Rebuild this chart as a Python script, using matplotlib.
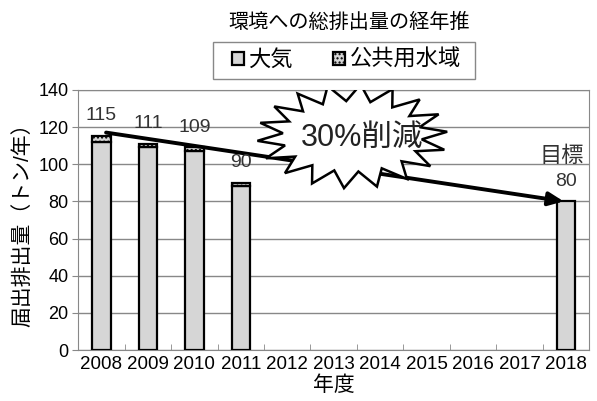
import numpy as np
import matplotlib
matplotlib.use('Agg')
import matplotlib.pyplot as plt
from matplotlib.patches import Polygon, Rectangle

plt.rcParams['font.family'] = ['Liberation Sans', 'Noto Sans CJK JP', 'DejaVu Sans']

years = [2008, 2009, 2010, 2011, 2012, 2013, 2014, 2015, 2016, 2017, 2018]
air = [112, 109, 107, 88, np.nan, np.nan, np.nan, np.nan, np.nan, np.nan, 80]
water = [3, 2, 2, 2, np.nan, np.nan, np.nan, np.nan, np.nan, np.nan, np.nan]
totals = [115, 111, 109, 90]
target = 80

fig = plt.figure(figsize=(5.97, 4.01), dpi=100)
ax = fig.add_axes([0.131, 0.127, 0.856, 0.649])

x = np.arange(len(years))
ax.bar(x, air, width=0.4, color='#d6d6d6', edgecolor='black', linewidth=1.6, label='大気', zorder=3)
ax.bar(x, water, width=0.4, bottom=air, color='#d6d6d6', edgecolor='black',
       linewidth=1.6, hatch='....', label='公共用水域', zorder=3)

for i, t in enumerate(totals):
    ax.text(x[i], t + 11, str(t), ha='center', va='center', fontsize=14, color='#333333', zorder=5)
ax.text(x[-1], target + 10.5, str(target), ha='center', va='center', fontsize=14, color='#333333')
ax.text(x[-1] - 0.1, target + 24, '目標', ha='center', va='center', fontsize=16, color='#333333')

# target arrow
ax.annotate('', xy=(x[-1] - 0.05, target), xytext=(x[0] + 0.1, 117),
            arrowprops=dict(arrowstyle='-|>,head_length=0.9,head_width=0.4', color='black', lw=2.8,
                            shrinkA=0, shrinkB=0),
            zorder=4)

# starburst
cx, cy = 5.4, 115
n = 18
ang = np.linspace(0, 2 * np.pi, 2 * n, endpoint=False) + np.pi / (2 * n)
rx = np.where(np.arange(2 * n) % 2 == 0, 2.05, 1.5)
ry = np.where(np.arange(2 * n) % 2 == 0, 28, 19)
pts = np.column_stack([cx + rx * np.cos(ang), cy + ry * np.sin(ang)])
ax.add_patch(Polygon(pts, closed=True, facecolor='white', edgecolor='black', lw=1.8, zorder=6))
ax.text(5.6, 114, '30%削減', ha='center', va='center', fontsize=22, color='#222222', zorder=7)

ax.set_xlim(-0.5, len(years) - 0.5)
ax.set_ylim(0, 140)
ax.set_yticks(range(0, 141, 20))
ax.set_xticks(x)
ax.set_xticks(x[:-1] + 0.5, minor=True)
ax.set_xticklabels([str(y) for y in years], fontsize=13.5)
ax.tick_params(axis='y', labelsize=13, length=4, color='#888888', pad=3)
ax.tick_params(axis='x', which='major', length=0, pad=4)
ax.tick_params(axis='x', which='minor', direction='in', length=4, color='#888888')
ax.yaxis.grid(True, color='#888888', linewidth=1, zorder=0)
ax.set_axisbelow(True)
for s in ax.spines.values():
    s.set_color('#888888')

ax.set_xlabel('年度', fontsize=15, labelpad=2)
ax.set_ylabel('届出排出量（トン/年）', fontsize=15, labelpad=4)

fig.text(0.585, 0.945, '環境への総排出量の経年推', ha='center', va='center', fontsize=14.5)

# legend frame drawn separately so it can be wider than the entries
fig.patches.append(Rectangle((0.357, 0.803), 0.439, 0.092, transform=fig.transFigure,
                             facecolor='white', edgecolor='#888888', lw=1))
fig.legend(loc='center', bbox_to_anchor=(0.58, 0.849), ncol=2, fontsize=16,
           frameon=False, handlelength=0.55, handleheight=0.55, columnspacing=1.8,
           handletextpad=0.2, borderpad=0.2, borderaxespad=0)

fig.savefig('out.png', dpi=100)
